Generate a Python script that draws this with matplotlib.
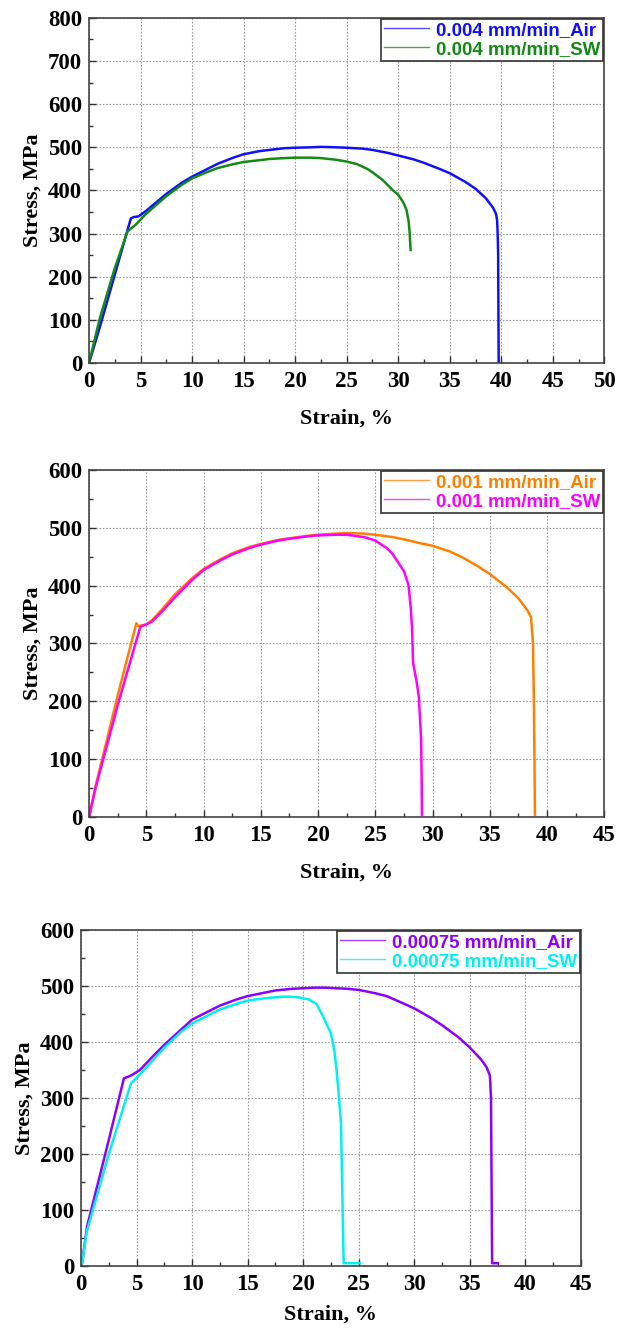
import matplotlib
matplotlib.use("Agg")
import matplotlib.pyplot as plt
from matplotlib.ticker import MultipleLocator

# ---------------- data ----------------
# Panel 1: 0.004 mm/min
p1_air_x = [0, 1.1, 2.5, 4.05, 4.3, 4.8, 5.5, 6.5, 7.5, 9, 10, 11.5, 12.5, 14, 15, 16.5, 17.5, 19,
            20, 21.5, 22.5, 24, 25, 26.5, 27.5, 29, 30, 31.5, 32.5, 34, 35, 36.5, 37.5, 38.5, 39.2,
            39.5, 39.6, 39.65, 39.7, 39.7, 39.75]
p1_air_y = [0, 88, 205, 335, 338, 340, 352, 372, 392, 418, 432, 450, 462, 476, 484, 491, 494, 498,
            499, 500, 501, 500, 499, 497, 494, 487, 481, 472, 464, 450, 440, 420, 404, 382, 360,
            345, 330, 300, 250, 230, 0]
p1_sw_x = [0, 1.0, 2.5, 3.73, 4.5, 5.5, 6.5, 7.5, 9, 10, 11.5, 12.5, 14, 15, 16.5, 17.5, 19, 20,
           21.5, 22.5, 24, 25, 26, 27, 27.5, 28.5, 29, 29.5, 30, 30.5, 30.8, 31.0, 31.1, 31.2]
p1_sw_y = [0, 100, 220, 305, 320, 345, 366, 387, 413, 428, 443, 452, 461, 466, 470, 473, 475, 476,
           476, 475, 471, 467, 461, 450, 442, 424, 412, 400, 390, 372, 355, 330, 305, 262]

# Panel 2: 0.001 mm/min
p2_air_x = [0, 0.56, 2.55, 4.13, 4.3, 5.0, 5.5, 6.5, 7.5, 9, 10, 11.5, 12.5, 14, 15, 16.5, 17.5, 19,
            20, 21.5, 22.5, 24, 25, 26.5, 27.5, 29, 30, 31.5, 32.5, 34, 35, 36.5, 37.5, 38.3, 38.6,
            38.77, 38.85, 38.9, 38.94]
p2_air_y = [0, 53, 214, 335, 330, 333, 340, 362, 385, 413, 429, 446, 456, 467, 472, 479, 482, 486,
            488, 490, 491, 490, 488, 484, 480, 473, 469, 459, 450, 433, 420, 397, 378, 357, 345,
            300, 200, 100, 4]
p2_sw_x = [0, 0.56, 2.55, 4.48, 5.0, 5.5, 6.5, 7.5, 9, 10, 11.5, 12.5, 14, 15, 16.5, 17.5, 19, 20,
           21.5, 22.5, 24, 25, 26, 26.5, 27, 27.5, 27.9, 28.1, 28.2, 28.3, 28.6, 28.8, 29.0, 29.05,
           29.07]
p2_sw_y = [0, 50, 197, 329, 333, 338, 358, 380, 410, 427, 444, 454, 465, 471, 478, 481, 485, 487,
           488, 488, 484, 478, 465, 455, 440, 425, 401, 360, 329, 266, 235, 208, 134, 60, 4]

# Panel 3: 0.00075 mm/min
p3_air_x = [0.1, 0.54, 2.5, 3.86, 4.5, 5.3, 6.5, 7.5, 9, 10, 11.5, 12.5, 14, 15, 16.5, 17.5, 19,
            20, 21, 22, 23, 24, 25, 26.5, 27.5, 29, 30, 31.5, 32.5, 34, 35, 36, 36.5, 36.8, 36.9,
            37.0, 37.5]
p3_air_y = [5, 70, 225, 335, 340, 350, 375, 395, 422, 440, 455, 465, 476, 482, 488, 492, 495,
            496, 497, 497, 496, 495, 493, 487, 482, 469, 460, 443, 430, 408, 390, 369, 355, 340,
            300, 5, 5]
p3_sw_x = [0.1, 0.5, 2.5, 4.5, 5.1, 6.5, 7.5, 9, 10, 11.5, 12.5, 14, 15, 16.5, 17.5, 18.5, 19.5,
           20.5, 21.2, 21.8, 22.2, 22.5, 22.8, 23.0, 23.2, 23.4, 23.5, 23.64, 25.1]
p3_sw_y = [5, 60, 200, 326, 338, 368, 390, 418, 433, 448, 458, 468, 474, 478, 480, 481, 480, 476,
           468, 445, 428, 415, 385, 350, 305, 255, 150, 5, 5]

panels = [
    dict(series=[(p1_air_x, p1_air_y, "#1010FF", "0.004 mm/min_Air"),
                 (p1_sw_x, p1_sw_y, "#138A13", "0.004 mm/min_SW")],
         xmax=50, ymax=800, rect=[0.143, 0.7267, 0.827, 0.2598], xpad=12),
    dict(series=[(p2_air_x, p2_air_y, "#FF8000", "0.001 mm/min_Air"),
                 (p2_sw_x, p2_sw_y, "#FF00FF", "0.001 mm/min_SW")],
         xmax=45, ymax=600, rect=[0.143, 0.3848, 0.827, 0.2613], xpad=12),
    dict(series=[(p3_air_x, p3_air_y, "#8C00FF", "0.00075 mm/min_Air"),
                 (p3_sw_x, p3_sw_y, "#00F0F0", "0.00075 mm/min_SW")],
         xmax=45, ymax=600, rect=[0.130, 0.0467, 0.8026, 0.253], xpad=7),
]

fig = plt.figure(figsize=(6.23, 13.28), dpi=100)
serif = ["Liberation Serif", "DejaVu Serif"]
sans = ["Liberation Sans", "DejaVu Sans"]

for p in panels:
    ax = fig.add_axes(p["rect"])
    for x, y, c, lab in p["series"]:
        ax.plot(x, y, color=c, lw=1.8, label=lab)
    ax.set_xlim(0, p["xmax"])
    ax.set_ylim(0, p["ymax"])
    ax.xaxis.set_major_locator(MultipleLocator(5))
    ax.xaxis.set_minor_locator(MultipleLocator(2.5))
    ax.yaxis.set_major_locator(MultipleLocator(100))
    ax.yaxis.set_minor_locator(MultipleLocator(50))
    ax.grid(True, which="major", color="#999999", ls=(0, (1.5, 1.5)), lw=0.8)
    ax.tick_params(which="both", direction="in", top=False, right=False, colors="#333333")
    ax.tick_params(which="major", length=5, width=1)
    ax.tick_params(which="minor", length=3, width=1)
    ax.tick_params(axis="x", which="major", pad=6)
    ax.tick_params(axis="y", which="major", pad=5)
    for lbl in ax.get_xticklabels() + ax.get_yticklabels():
        lbl.set_fontfamily(serif)
        lbl.set_fontweight("bold")
        lbl.set_fontsize(16.5)
        lbl.set_color("black")
    for s in ax.spines.values():
        s.set_color("#444444")
        s.set_linewidth(1.2)
    ax.set_xlabel("Strain, %", family=serif, fontweight="bold", fontsize=16, labelpad=p["xpad"])
    ax.set_ylabel("Stress, MPa", family=serif, fontweight="bold", fontsize=16, labelpad=4)
    leg = ax.legend(loc="upper right", borderaxespad=0.05, fancybox=False, framealpha=1,
                    edgecolor="#333333", handlelength=2.4, handletextpad=0.4,
                    borderpad=0.15, labelspacing=0.1,
                    prop=dict(family=sans, weight="bold", size=13.5))
    leg.get_frame().set_linewidth(1.2)
    for txt, line in zip(leg.get_texts(), leg.get_lines()):
        txt.set_color(line.get_color())
        line.set_linewidth(1.0)
        line.set_alpha(0.75)

fig.savefig("out.png", dpi=100)
